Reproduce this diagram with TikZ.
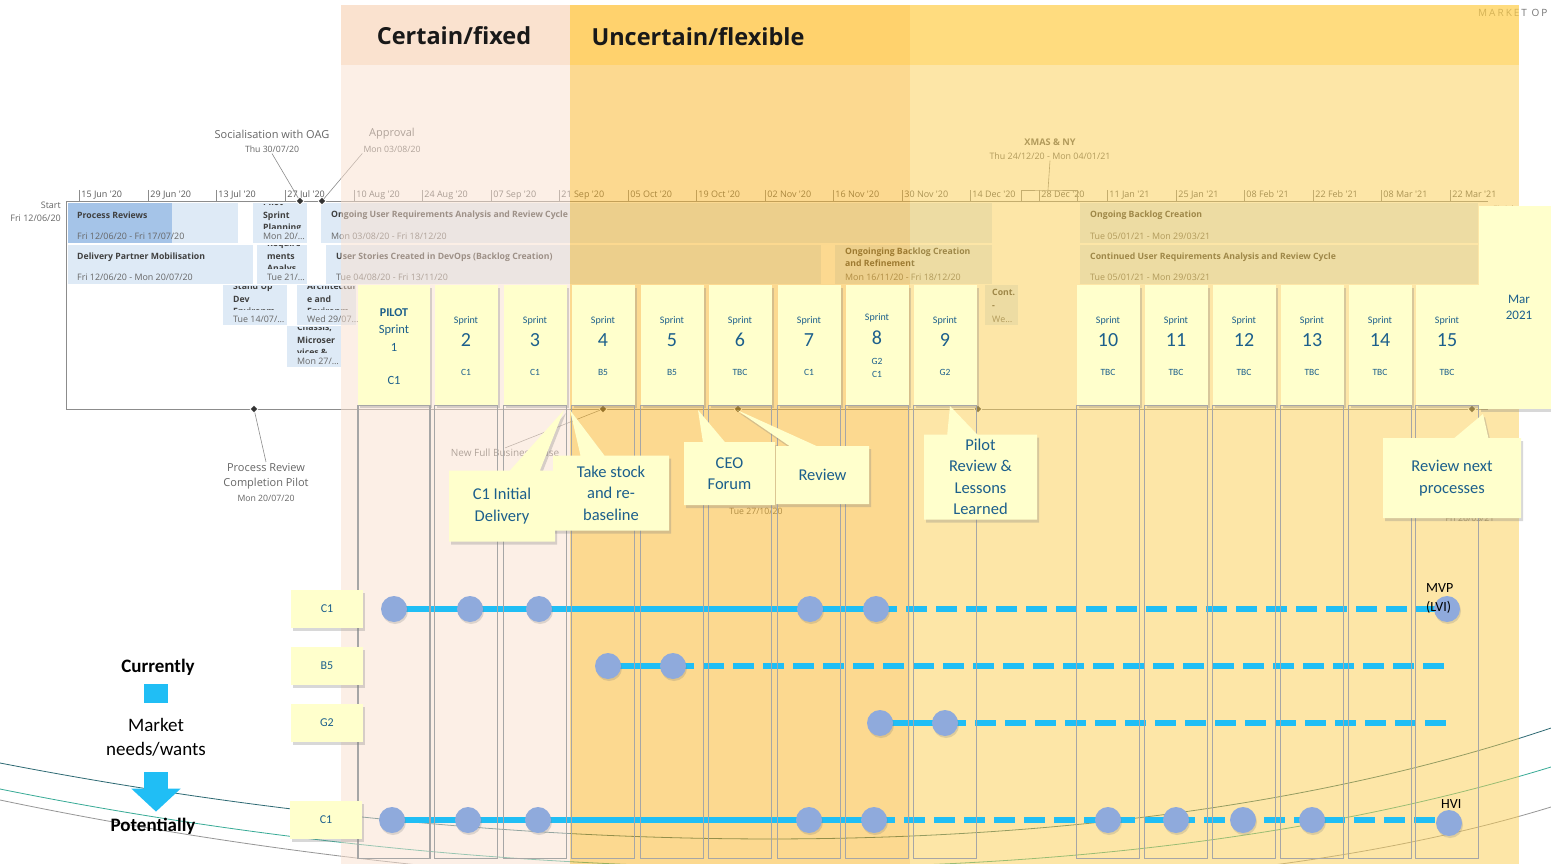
\documentclass[tikz,border=0pt]{standalone}
\usepackage{fontspec}
\setmainfont{Carlito}
\newfontfamily\ganttfont{Open Sans}
\newfontfamily\spacedfont[LetterSpace=20]{Open Sans}
\usepackage{tikz}
\usetikzlibrary{arrows.meta, positioning, shapes.geometric, shapes.callouts, shadows}

\definecolor{notetext}{RGB}{28,95,140}
\definecolor{notefill}{RGB}{255,255,204}
\definecolor{barblue}{RGB}{222,234,246}
\definecolor{bardark}{RGB}{165,196,232}
\definecolor{certhead}{RGB}{249,214,188}
\definecolor{certbody}{RGB}{251,225,207}
\definecolor{unchead}{RGB}{255,192,48}
\definecolor{uncheadtwo}{RGB}{255,206,74}
\definecolor{uncbody}{RGB}{251,181,35}
\definecolor{uncbodytwo}{RGB}{253,207,81}
\definecolor{lineblue}{RGB}{32,190,245}
\definecolor{dotblue}{RGB}{143,170,220}
\definecolor{trenda}{RGB}{45,105,115}
\definecolor{trendb}{RGB}{55,170,150}
\definecolor{trendc}{RGB}{150,150,150}

\begin{document}
\begin{tikzpicture}[
    x=1pt, y=-1pt,
    chartline/.style={draw=black!45, line width=0.8pt},
    leader/.style={draw=black!45, line width=0.6pt},
    datetick/.style={font=\ganttfont\fontsize{9}{10}\selectfont, text=black!65, anchor=base west, inner sep=0pt},
    ganttbar/.style={fill=barblue},
    ganttdone/.style={fill=bardark},
    bartitle/.style={font=\ganttfont\bfseries\fontsize{8.7}{10}\selectfont, text=black!75, anchor=west, inner sep=0pt},
    bardate/.style={font=\ganttfont\fontsize{8.9}{10}\selectfont, text=black!60, anchor=west, inner sep=0pt},
    smalltitle/.style={bartitle, align=left, font=\ganttfont\bfseries\fontsize{8.7}{12.5}\selectfont},
    milestone/.style={diamond, fill=black!80, draw=white, line width=0.6pt, minimum size=8pt, inner sep=0pt},
    mslabel/.style={font=\ganttfont\fontsize{11}{15}\selectfont, text=black!60, align=center, inner sep=1pt},
    msdate/.style={font=\ganttfont\fontsize{8.7}{13}\selectfont, text=black!60, align=center, inner sep=1pt},
    headband/.style={fill opacity=0.7},
    band/.style={fill opacity=0.5},
    title/.style={font=\ganttfont\bfseries\fontsize{23.5}{28}\selectfont, text=black!90},
    note/.style={fill=notefill, inner sep=0pt, drop shadow={shadow xshift=2pt, shadow yshift=-3pt, opacity=0.3}},
    sprintnote/.style={note, minimum width=63pt, minimum height=120pt},
    sprintword/.style={text=notetext, font=\fontsize{10}{11}\selectfont, yshift=24pt, inner sep=0pt},
    sprintnum/.style={text=notetext, font=\fontsize{20}{22}\selectfont, yshift=5pt, inner sep=0pt},
    sprintcode/.style={text=notetext, font=\fontsize{9.5}{13}\selectfont, yshift=-27pt, align=center, inner sep=0pt},
    sprint/.style 2 args={sprintnote, label={[sprintword]center:Sprint}, label={[sprintnum]center:#1}, label={[sprintcode]center:#2}},
    sprintcol/.style={draw=black!35, line width=1.2pt, minimum height=453pt, inner sep=0pt, anchor=north},
    callbox/.style={rectangle callout, note, text=notetext, font=\fontsize{16.5}{21.5}\selectfont, align=center},
    rowlabel/.style={note, text=notetext, minimum width=72pt, minimum height=38pt, font=\fontsize{12}{14}\selectfont},
    flow/.style={draw=lineblue, line width=5.5pt},
    plan/.style={flow, dash pattern=on 21pt off 9pt},
    blob/.style={circle, fill=dotblue, minimum size=26pt, inner sep=0pt, drop shadow={shadow xshift=1pt, shadow yshift=-2pt, opacity=0.25}},
    goal/.style={font=\fontsize{14}{19}\selectfont, text=black, align=left, inner sep=0pt, anchor=west},
    bigword/.style={font=\fontsize{19}{24}\selectfont, text=black, inner sep=1pt},
    bigarrow/.style={draw=lineblue, line width=24pt, -{Triangle[width=48pt, length=23pt]}, shorten <=8pt, shorten >=5pt},
    trend/.style={line width=0.8pt}
]
    \useasboundingbox (0,0) rectangle (1551,864);
    \fill[white] (0,0) rectangle (1551,864);

    \draw[chartline] (66,409) -- (66,201) -- (1488,201);
    \draw[chartline] (66,409) -- (1488,409);
    \draw[chartline] (79,190) -- (79,201) node[datetick] (t01) at (81,197) {15 Jun '20};
    \draw[chartline] (148,190) -- (148,201) node[datetick] (t02) at (150,197) {29 Jun '20};
    \draw[chartline] (216,190) -- (216,201) node[datetick] (t03) at (218,197) {13 Jul '20};
    \draw[chartline] (285,190) -- (285,201) node[datetick] (t04) at (287,197) {27 Jul '20};
    \draw[chartline] (354,190) -- (354,201) node[datetick] (t05) at (356,197) {10 Aug '20};
    \draw[chartline] (422,190) -- (422,201) node[datetick] (t06) at (424,197) {24 Aug '20};
    \draw[chartline] (491,190) -- (491,201) node[datetick] (t07) at (493,197) {07 Sep '20};
    \draw[chartline] (559,190) -- (559,201) node[datetick] (t08) at (561,197) {21 Sep '20};
    \draw[chartline] (628,190) -- (628,201) node[datetick] (t09) at (630,197) {05 Oct '20};
    \draw[chartline] (696,190) -- (696,201) node[datetick] (t10) at (698,197) {19 Oct '20};
    \draw[chartline] (765,190) -- (765,201) node[datetick] (t11) at (767,197) {02 Nov '20};
    \draw[chartline] (833,190) -- (833,201) node[datetick] (t12) at (835,197) {16 Nov '20};
    \draw[chartline] (902,190) -- (902,201) node[datetick] (t13) at (904,197) {30 Nov '20};
    \draw[chartline] (970,190) -- (970,201) node[datetick] (t14) at (972,197) {14 Dec '20};
    \draw[chartline] (1039,190) -- (1039,201) node[datetick] (t15) at (1041,197) {28 Dec '20};
    \draw[chartline] (1107,190) -- (1107,201) node[datetick] (t16) at (1109,197) {11 Jan '21};
    \draw[chartline] (1176,190) -- (1176,201) node[datetick] (t17) at (1178,197) {25 Jan '21};
    \draw[chartline] (1244,190) -- (1244,201) node[datetick] (t18) at (1246,197) {08 Feb '21};
    \draw[chartline] (1313,190) -- (1313,201) node[datetick] (t19) at (1315,197) {22 Feb '21};
    \draw[chartline] (1381,190) -- (1381,201) node[datetick] (t20) at (1383,197) {08 Mar '21};
    \draw[chartline] (1450,190) -- (1450,201) node[datetick] (t21) at (1452,197) {22 Mar '21};

    \node[msdate, anchor=east, align=right, font=\ganttfont\fontsize{9}{13}\selectfont] (start) at (62,212) {Start\\Fri 12/06/20};
    \node[msdate, anchor=west] (finish) at (1492,209) {Finish};

    \fill[ganttbar] (68,203) rectangle (238,243);
    \fill[ganttdone] (68,203) rectangle (172,243);
    \node[bartitle] (prt) at (77,215) {Process Reviews};
    \node[bardate] (prd) at (77,236) {Fri 12/06/20 - Fri 17/07/20};
    \fill[ganttbar] (68,244.5) rectangle (253,284);
    \node[bartitle] (dpt) at (77,257) {Delivery Partner Mobilisation};
    \node[bardate] (dpd) at (77,277) {Fri 12/06/20 - Mon 20/07/20};

    \fill[ganttbar] (253,203) rectangle (307,243);
    \begin{scope}
        \clip (253,204) rectangle (307,228);
        \node[smalltitle] (pst) at (263,216) {Pilot\\Sprint\\Planning};
    \end{scope}
    \node[bardate] (psd) at (263,236) {Mon 20/…};
    \fill[ganttbar] (257,244.5) rectangle (307,284);
    \begin{scope}
        \clip (257,245) rectangle (307,268);
        \node[smalltitle] (rat) at (267,257) {Require\\ments\\Analys};
    \end{scope}
    \node[bardate] (rad) at (267,277) {Tue 21/…};
    \fill[ganttbar] (223,285) rectangle (287,325);
    \begin{scope}
        \clip (223,286) rectangle (287,309);
        \node[smalltitle] (sut) at (233,299) {Stand Up\\Dev\\Environm};
    \end{scope}
    \node[bardate] (sud) at (233,319) {Tue 14/07/…};
    \fill[ganttbar] (297,285) rectangle (356,325);
    \begin{scope}
        \clip (297,286) rectangle (356,309);
        \node[smalltitle] (aet) at (307,299) {Architectur\\e and\\Environm};
    \end{scope}
    \node[bardate] (aed) at (307,319) {Wed 29/07…};
    \fill[ganttbar] (287,326) rectangle (341,367);
    \begin{scope}
        \clip (287,327) rectangle (341,352);
        \node[smalltitle] (cmt) at (297,340) {Chassis,\\Microser\\vices \&};
    \end{scope}
    \node[bardate] (cmd) at (297,361) {Mon 27/…};

    \fill[ganttbar] (321,203) rectangle (992,243);
    \node[bartitle] (ourt) at (331,215) {Ongoing User Requirements Analysis and Review Cycle};
    \node[bardate] (ourd) at (331,236) {Mon 03/08/20 - Fri 18/12/20};
    \fill[ganttbar] (326,244.5) rectangle (821,284);
    \node[bartitle] (ust) at (336,257) {User Stories Created in DevOps (Backlog Creation)};
    \node[bardate] (usd) at (336,277) {Tue 04/08/20 - Fri 13/11/20};
    \fill[ganttbar] (835,244.5) rectangle (992,284);
    \node[bartitle, align=left, font=\ganttfont\bfseries\fontsize{8.7}{12}\selectfont] (obt) at (845,257) {Ongoinging Backlog Creation\\and Refinement};
    \node[bardate] (obd) at (845,277) {Mon 16/11/20 - Fri 18/12/20};
    \fill[ganttbar] (985,285) rectangle (1018,325);
    \begin{scope}
        \clip (985,286) rectangle (1018,310);
        \node[smalltitle] (cot) at (992,299) {Cont.\\-};
    \end{scope}
    \node[bardate] (cod) at (992,319) {We…};
    \fill[ganttbar] (1080,203) rectangle (1478,243);
    \node[bartitle] (obct) at (1090,215) {Ongoing Backlog Creation};
    \node[bardate] (obcd) at (1090,236) {Tue 05/01/21 - Mon 29/03/21};
    \fill[ganttbar] (1080,244.5) rectangle (1478,284);
    \node[bartitle] (curt) at (1090,257) {Continued User Requirements Analysis and Review Cycle};
    \node[bardate] (curd) at (1090,277) {Tue 05/01/21 - Mon 29/03/21};

    \node[milestone] (soc) at (300,201) {};
    \node[milestone] (apr) at (322,201) {};
    \node[mslabel] (socl) at (272,134) {Socialisation with OAG};
    \node[msdate] (socd) at (272,149) {Thu 30/07/20};
    \draw[leader] (socd.south) -- (soc);
    \node[mslabel] (aprl) at (392,134) {Approval};
    \node[msdate] (aprd) at (392,149) {Mon 03/08/20};
    \draw[leader] (aprd.south west) -- (apr);
    \node[msdate, font=\ganttfont\bfseries\fontsize{9.2}{10}\selectfont] (xmasl) at (1050,142) {XMAS \& NY};
    \node[msdate, font=\ganttfont\fontsize{8.9}{10}\selectfont] (xmasd) at (1050,156) {Thu 24/12/20 - Mon 04/01/21};
    \coordinate (xmasb) at (1048,190);
    \draw[chartline] (1021,201) |- (xmasb) -| (1077,201);
    \draw[leader] (xmasd.south) -- (xmasb);

    \node[milestone] (prc) at (254,409) {};
    \node[mslabel] (prcl) at (266,476) {Process Review\\Completion Pilot};
    \node[msdate] (prcd) at (266,498) {Mon 20/07/20};
    \draw[leader] (prcl.north) -- (prc);
    \node[milestone] (nfb) at (603,409) {};
    \node[mslabel, font=\ganttfont\fontsize{10}{12}\selectfont] (nfbl) at (505,453) {New Full Business Case};
    \draw[leader] (nfb) -- (nfbl.north);
    \node[milestone] (ceo) at (738,409) {};
    \node[msdate] (ceod) at (756,511) {Tue 27/10/20};
    \node[milestone] (plr) at (978,409) {};
    \node[milestone] (rnp) at (1472,409) {};
    \node[msdate] (rnpd) at (1470,518) {Fri 26/03/21};

    \node[font=\spacedfont\fontsize{10}{12}\selectfont, text=black!55, anchor=west, inner sep=0pt] (mkop) at (1478,13) {MARKET OP};

    \draw[trend, trenda] (0,763) .. controls (500,860) and (1100,880) .. (1551,728);
    \draw[trend, trendb] (0,789) .. controls (500,890) and (1100,905) .. (1551,767);
    \draw[trend, trendc] (0,800) .. controls (500,905) and (1150,930) .. (1551,807);

    \fill[headband, certhead] (341,5) rectangle (570,65);
    \fill[band, certbody] (341,65) rectangle (570,864);
    \fill[headband, unchead] (570,5) rectangle (910,65);
    \fill[headband, uncheadtwo] (910,5) rectangle (1519,65);
    \fill[band, uncbody] (570,65) rectangle (910,864);
    \fill[band, uncbodytwo] (910,65) rectangle (1519,864);

    \node[title] (certain) at (454,36) {Certain/fixed};
    \node[title, anchor=west] (uncertain) at (588,37) {Uncertain/flexible};

    \coordinate (a1) at (394,609);
    \coordinate (a2) at (470,609);
    \coordinate (a3) at (539,609);
    \coordinate (a4) at (810,609);
    \coordinate (a5) at (876,609);
    \coordinate (a6) at (1447,609);
    \coordinate (b1) at (608,666);
    \coordinate (b2) at (673,666);
    \coordinate (b3) at (1452,666);
    \coordinate (g1) at (880,723);
    \coordinate (g2) at (945,723);
    \coordinate (g3) at (1452,723);
    \coordinate (p1) at (392,820);
    \coordinate (p2) at (468,820);
    \coordinate (p3) at (538,820);
    \coordinate (p4) at (809,820);
    \coordinate (p5) at (874,820);
    \coordinate (p6) at (1108,820);
    \coordinate (p7) at (1176,820);
    \coordinate (p8) at (1243,820);
    \coordinate (p9) at (1312,820);
    \coordinate (p10) at (1449,820);

    \draw[flow] (a1) -- (a5);
    \draw[plan] (a5) -- (a6);
    \draw[flow] (b1) -- (b2);
    \draw[plan] (b2) -- (b3);
    \draw[flow] (g1) -- (g2);
    \draw[plan] (g2) -- (g3);
    \draw[flow] (p1) -- (p5);
    \draw[plan] (p5) -- (p10);

    \node[sprintnote, minimum width=72pt,
        label={[text=notetext, font=\bfseries\fontsize{12}{14}\selectfont, yshift=32pt, inner sep=0pt]center:PILOT},
        label={[text=notetext, font=\fontsize{12.5}{14}\selectfont, yshift=15pt, inner sep=0pt]center:Sprint},
        label={[text=notetext, font=\fontsize{12.5}{14}\selectfont, yshift=-2pt, inner sep=0pt]center:1},
        label={[text=notetext, font=\fontsize{12.5}{14}\selectfont, yshift=-35pt, inner sep=0pt]center:C1}] (s1) at (394,345) {};
    \node[sprint={2}{C1}] (s2) at (466,345) {};
    \node[sprint={3}{C1}] (s3) at (535,345) {};
    \node[sprint={4}{B5}] (s4) at (603,345) {};
    \node[sprint={5}{B5}] (s5) at (672,345) {};
    \node[sprint={6}{TBC}] (s6) at (740,345) {};
    \node[sprint={7}{C1}] (s7) at (809,345) {};
    \node[sprintnote,
        label={[sprintword, yshift=3pt]center:Sprint},
        label={[sprintnum, yshift=2pt]center:8},
        label={[sprintcode, yshift=4.5pt]center:G2\\C1}] (s8) at (877,345) {};
    \node[sprint={9}{G2}] (s9) at (945,345) {};
    \node[sprint={10}{TBC}] (s10) at (1108,345) {};
    \node[sprint={11}{TBC}] (s11) at (1176,345) {};
    \node[sprint={12}{TBC}] (s12) at (1244,345) {};
    \node[sprint={13}{TBC}] (s13) at (1312,345) {};
    \node[sprint={14}{TBC}] (s14) at (1380,345) {};
    \node[sprint={15}{TBC}] (s15) at (1447,345) {};
    \node[note, minimum width=80pt, minimum height=203pt, text=notetext, font=\fontsize{13}{16}\selectfont, align=center] (mar) at (1519,307.5) {Mar\\2021};

    \node[sprintcol, minimum width=72pt] (k1) at (s1.south) {};
    \node[sprintcol, minimum width=63pt] (k2) at (s2.south) {};
    \node[sprintcol, minimum width=63pt] (k3) at (s3.south) {};
    \node[sprintcol, minimum width=63pt] (k4) at (s4.south) {};
    \node[sprintcol, minimum width=63pt] (k5) at (s5.south) {};
    \node[sprintcol, minimum width=63pt] (k6) at (s6.south) {};
    \node[sprintcol, minimum width=63pt] (k7) at (s7.south) {};
    \node[sprintcol, minimum width=63pt] (k8) at (s8.south) {};
    \node[sprintcol, minimum width=63pt] (k9) at (s9.south) {};
    \node[sprintcol, minimum width=63pt] (k10) at (s10.south) {};
    \node[sprintcol, minimum width=63pt] (k11) at (s11.south) {};
    \node[sprintcol, minimum width=63pt] (k12) at (s12.south) {};
    \node[sprintcol, minimum width=63pt] (k13) at (s13.south) {};
    \node[sprintcol, minimum width=63pt] (k14) at (s14.south) {};
    \node[sprintcol, minimum width=63pt] (k15) at (s15.south) {};

    \coordinate (cidp) at (564,410);
    \coordinate (tsp) at (570,410);
    \coordinate (cfp) at (698,410);
    \coordinate (rvp) at (737,410);
    \coordinate (prp) at (950,406);
    \coordinate (rnpp) at (1483,414);
    \node[callbox, minimum width=106pt, minimum height=71pt, callout absolute pointer={(cidp)}, callout pointer width=30pt] (cid) at (502,506) {C1 Initial\\Delivery};
    \node[callbox, minimum width=116pt, minimum height=75pt, callout absolute pointer={(tsp)}, callout pointer width=24pt] (tsb) at (611,493) {Take stock\\and re-\\baseline};
    \node[callbox, minimum width=91pt, minimum height=63pt, callout absolute pointer={(cfp)}, callout pointer width=22pt] (cfb) at (729.5,473.5) {CEO\\Forum};
    \node[callbox, minimum width=93pt, minimum height=58pt, callout absolute pointer={(rvp)}, callout pointer width=27pt] (rvb) at (822.5,475) {Review};
    \node[callbox, minimum width=113pt, minimum height=85pt, callout absolute pointer={(prp)}, callout pointer width=30pt] (prb) at (980.5,477) {Pilot\\Review \&\\Lessons\\Learned};
    \node[callbox, minimum width=138pt, minimum height=80pt, callout absolute pointer={(rnpp)}, callout pointer width=34pt] (rnb) at (1452,478) {Review next\\processes};

    \node[rowlabel] (rc1) at (327,609) {C1};
    \node[rowlabel] (rb5) at (327,666) {B5};
    \node[rowlabel] (rg2) at (327,723) {G2};
    \node[rowlabel] (rp1) at (326,820) {C1};

    \node[blob] (da1) at (a1) {};
    \node[blob] (da2) at (a2) {};
    \node[blob] (da3) at (a3) {};
    \node[blob] (da4) at (a4) {};
    \node[blob] (da5) at (a5) {};
    \node[blob] (da6) at (a6) {};
    \node[blob] (db1) at (b1) {};
    \node[blob] (db2) at (b2) {};
    \node[blob] (dg1) at (g1) {};
    \node[blob] (dg2) at (g2) {};
    \node[blob] (dp1) at (p1) {};
    \node[blob] (dp2) at (p2) {};
    \node[blob] (dp3) at (p3) {};
    \node[blob] (dp4) at (p4) {};
    \node[blob] (dp5) at (p5) {};
    \node[blob] (dp6) at (p6) {};
    \node[blob] (dp7) at (p7) {};
    \node[blob] (dp8) at (p8) {};
    \node[blob] (dp9) at (p9) {};
    \node[blob] (dp10) at (1449,823) {};
    \node[goal] (mvp) at (1426,598) {MVP\\(LVI)};
    \node[goal] (hvi) at (1441,804) {HVI};

    \node[bigword, font=\bfseries\fontsize{19}{24}\selectfont] (cur) at (158,667) {Currently};
    \node[bigword, font=\bfseries\fontsize{19}{24}\selectfont] (pot) at (153,826) {Potentially};
    \coordinate (axis) at (156,737);
    \draw[bigarrow] (cur.south -| axis) -- (pot.north -| axis);
    \node[bigword, fill=white, minimum height=69pt, align=center] (mkt) at (axis) {Market\\needs/wants};
\end{tikzpicture}
\end{document}
